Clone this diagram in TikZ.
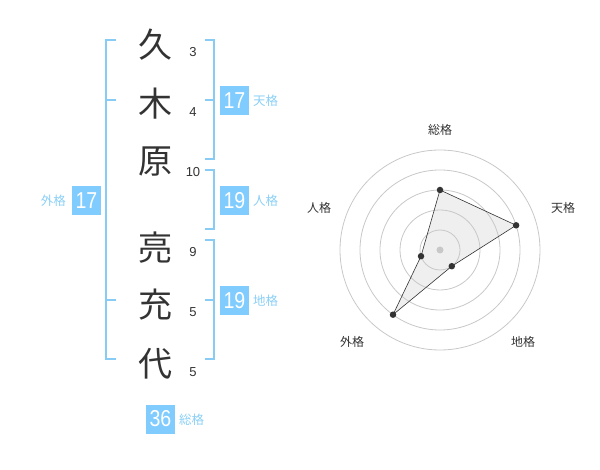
\documentclass[tikz,border=0pt]{standalone}
\usepackage{fontspec}
\setmainfont{Liberation Sans}
\newfontfamily\cjk{Noto Sans CJK JP}
\definecolor{boxblue}{HTML}{80CCFF}
\definecolor{brblue}{HTML}{88CCF6}
\definecolor{lblblue}{HTML}{8ACFF6}
\definecolor{txtdark}{HTML}{333333}
\definecolor{gridgray}{HTML}{C8C8C8}
\definecolor{polyfill}{HTML}{EFEFEF}
\begin{document}
\begin{tikzpicture}[x=1pt,y=-1pt,
  kanji/.style={font=\cjk\fontsize{34}{34}\selectfont,text=txtdark,inner sep=0pt},
  stroke/.style={font=\fontsize{13}{13}\selectfont,text=txtdark,inner sep=0pt},
  bracket/.style={draw=brblue,line width=1.6pt},
  valbox/.style={fill=boxblue,text=white,minimum width=29pt,minimum height=29pt,inner sep=0pt,font=\fontsize{23}{23}\selectfont},
  kaku/.style={text=lblblue,font=\cjk\fontsize{12.5}{12.5}\selectfont,inner sep=0pt},
  rlabel/.style={text=txtdark,font=\cjk\fontsize{12}{12}\selectfont,inner sep=0pt},
  grid/.style={draw=gridgray,line width=0.8pt},
  pt/.style={circle,fill=txtdark,inner sep=0pt,minimum size=6.5pt}]
\useasboundingbox (0,0) rectangle (600,470);
% kanji
\node[kanji] (k1) at (155,45) {久};
\node[kanji] (k2) at (155,104) {木};
\node[kanji] (k3) at (155,162) {原};
\node[kanji] (k4) at (155,248) {亮};
\node[kanji] (k5) at (155,305) {充};
\node[kanji] (k6) at (155,364) {代};
% strokes
\node[stroke] (s1) at (193,52) {3};
\node[stroke] (s2) at (193,112) {4};
\node[stroke] (s3) at (193,172) {10};
\node[stroke] (s4) at (193,252) {9};
\node[stroke] (s5) at (193,312) {5};
\node[stroke] (s6) at (193,372) {5};
% brackets
\coordinate (L1) at (116,40); \coordinate (L2) at (106,40);
\coordinate (L3) at (106,359); \coordinate (L4) at (116,359);
\draw[bracket] (L1) -- (L2) -- (L3) -- (L4);
\coordinate (La) at (106,100); \coordinate (Lb) at (116,100);
\coordinate (Lc) at (106,300); \coordinate (Ld) at (116,300);
\draw[bracket] (La) -- (Lb) (Lc) -- (Ld);
% right bracket ten
\coordinate (T1) at (205,40); \coordinate (T2) at (214,40);
\coordinate (T3) at (214,159); \coordinate (T4) at (205,159);
\coordinate (T5) at (205,100); \coordinate (T6) at (214,100);
\draw[bracket] (T1) -- (T2) -- (T3) -- (T4) (T5) -- (T6);
% right bracket jin
\coordinate (J1) at (205,170); \coordinate (J2) at (214,170);
\coordinate (J3) at (214,229); \coordinate (J4) at (205,229);
\draw[bracket] (J1) -- (J2) -- (J3) -- (J4);
% right bracket chi
\coordinate (C1) at (205,240); \coordinate (C2) at (214,240);
\coordinate (C3) at (214,359); \coordinate (C4) at (205,359);
\coordinate (C5) at (205,300); \coordinate (C6) at (214,300);
\draw[bracket] (C1) -- (C2) -- (C3) -- (C4) (C5) -- (C6);
% value boxes
\node[valbox] (vten) at (234.5,100.5) {\scalebox{0.85}[1]{17}};
\node[kaku,anchor=west] (lten) at (253,101) {天格};
\node[valbox] (vjin) at (234.5,200.5) {\scalebox{0.85}[1]{19}};
\node[kaku,anchor=west] (ljin) at (253,201) {人格};
\node[valbox] (vchi) at (234.5,300.5) {\scalebox{0.85}[1]{19}};
\node[kaku,anchor=west] (lchi) at (253,301) {地格};
\node[valbox] (vgai) at (86.5,200.5) {\scalebox{0.85}[1]{17}};
\node[kaku,anchor=east] (lgai) at (66,201) {外格};
\node[valbox] (vso) at (160.5,419) {\scalebox{0.85}[1]{36}};
\node[kaku,anchor=west] (lso) at (179,420) {総格};
% radar
\coordinate (O) at (440,250);
\path (O) ++(0,-60) coordinate (P1);
\path (O) ++(76.1,-24.7) coordinate (P2);
\path (O) ++(11.8,16.2) coordinate (P3);
\path (O) ++(-47,64.7) coordinate (P4);
\path (O) ++(-19,6.2) coordinate (P5);
\fill[polyfill] (P1) -- (P2) -- (P3) -- (P4) -- (P5) -- cycle;
\foreach \r in {20,40,60,80,100} \draw[grid] (O) circle (\r);
\draw[draw=txtdark,line width=0.6pt] (P1) -- (P2) -- (P3) -- (P4) -- (P5) -- cycle;
\node[circle,fill=gridgray,inner sep=0pt,minimum size=7pt] (oc) at (O) {};
\foreach \p in {P1,P2,P3,P4,P5} \node[pt] at (\p) {};
\node[rlabel] (rso) at (440,130) {総格};
\node[rlabel] (rten) at (563,208) {天格};
\node[rlabel] (rchi) at (523,342) {地格};
\node[rlabel] (rgai) at (352,342) {外格};
\node[rlabel] (rjin) at (319,208) {人格};
\end{tikzpicture}
\end{document}
